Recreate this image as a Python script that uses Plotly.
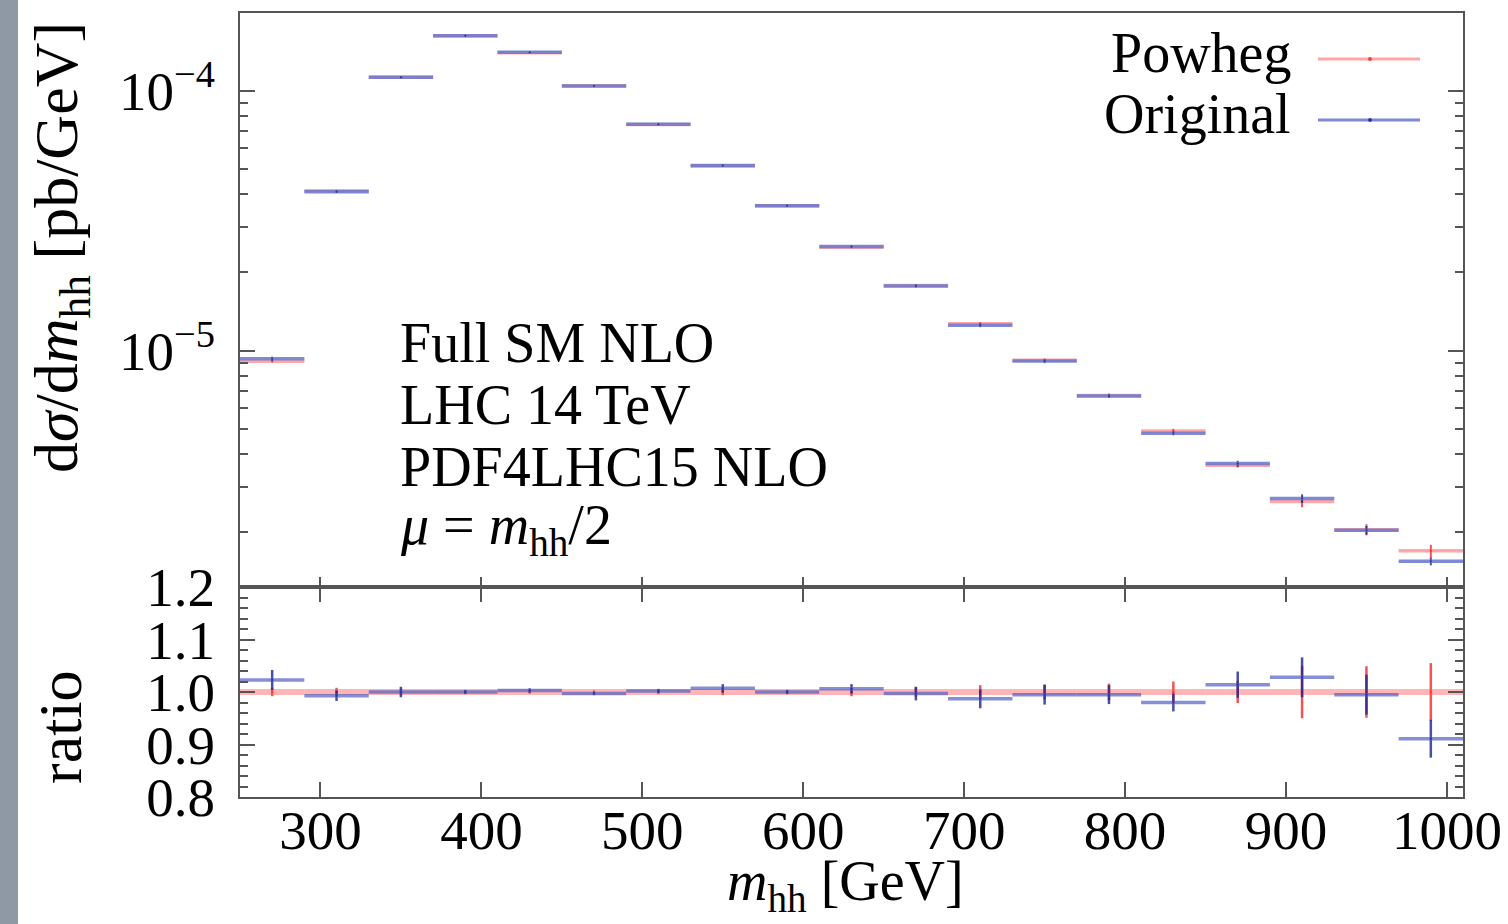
import plotly.graph_objects as go

# ---------------- data ----------------
bin_lo = [250, 290, 330, 370, 410, 450, 490, 530, 570, 610,
          650, 690, 730, 770, 810, 850, 890, 930, 970]
bin_hi = [290, 330, 370, 410, 450, 490, 530, 570, 610, 650,
          690, 730, 770, 810, 850, 890, 930, 970, 1010]

powheg = [9.10e-6, 4.12e-5, 1.126e-4, 1.627e-4, 1.40e-4, 1.045e-4, 7.42e-5,
          5.13e-5, 3.61e-5, 2.50e-5, 1.78e-5, 1.27e-5, 9.18e-6, 6.73e-6,
          4.91e-6, 3.63e-6, 2.63e-6, 2.05e-6, 1.70e-6]
original = [9.31e-6, 4.09e-5, 1.126e-4, 1.627e-4, 1.404e-4, 1.042e-4, 7.43e-5,
            5.16e-5, 3.61e-5, 2.515e-5, 1.775e-5, 1.254e-5, 9.13e-6, 6.70e-6,
            4.81e-6, 3.68e-6, 2.70e-6, 2.04e-6, 1.55e-6]

ratio_powheg = [1.0] * 19
ratio_powheg_err = [0.008, 0.008, 0.006, 0.003, 0.003, 0.003, 0.004, 0.006, 0.004, 0.008,
                    0.009, 0.013, 0.014, 0.016, 0.020, 0.021, 0.050, 0.049, 0.055]
ratio_original = [1.023, 0.993, 1.000, 1.000, 1.003, 0.997, 1.002, 1.007, 1.000, 1.006,
                  0.997, 0.987, 0.995, 0.995, 0.980, 1.014, 1.028, 0.995, 0.911]
ratio_original_err = [0.019, 0.010, 0.010, 0.004, 0.004, 0.003, 0.004, 0.008, 0.004, 0.009,
                      0.013, 0.018, 0.019, 0.018, 0.017, 0.025, 0.038, 0.038, 0.036]

x_ticks = [300, 400, 500, 600, 700, 800, 900, 1000]
ratio_ticks = [0.8, 0.9, 1.0, 1.1, 1.2]
ratio_ticktext = ["0.8", "0.9", "1.0", "1.1", "1.2"]
main_ticks = [1e-5, 1e-4]
main_ticktext = ["10<sup>\u22125</sup>", "10<sup>\u22124</sup>"]

info_lines = ["Full SM NLO", "LHC 14 TeV", "PDF4LHC15 NLO",
              "<i>\u03bc</i> = <i>m</i><sub>hh</sub>/2"]

# ---------------- styling ----------------
RED = "rgba(255,80,80,0.5)"
RED_BAR = "rgba(240,40,40,0.8)"
BLUE = "rgba(105,118,205,0.85)"
BLUE_BAR = "rgba(25,35,145,0.8)"
FONT = "Liberation Serif, Times New Roman, serif"
FS_TICK = 55
FS = 56
AX = "#555555"

W, H = 1508, 924
L, R, T, B = 240, 45, 13, 127
PW, PH = W - L - R, H - T - B
split = (797 - 587) / PH


def px_x(p):
    return (p - L) / PW


def px_y(p):
    return (H - B - p) / PH


centers = [(a + b) / 2 for a, b in zip(bin_lo, bin_hi)]
halfw = [(b - a) / 2 for a, b in zip(bin_lo, bin_hi)]

fig = go.Figure()


def add_hist(y, err, xa, ya, col, barcol, lw, ew):
    fig.add_trace(go.Scatter(
        x=centers, y=y, mode="markers", xaxis=xa, yaxis=ya,
        marker=dict(size=2, color=barcol),
        error_x=dict(type="data", array=halfw, width=0, thickness=lw, color=col),
        error_y=dict(type="data", array=err, width=0, thickness=ew, color=barcol),
        showlegend=False, hoverinfo="skip"))


# main panel: small stat errors
powheg_err = [v * e for v, e in zip(powheg, ratio_powheg_err)]
original_err = [v * e for v, e in zip(original, ratio_original_err)]
add_hist(powheg, powheg_err, "x", "y", RED, RED_BAR, 3.5, 2)
add_hist(original, original_err, "x", "y", BLUE, BLUE_BAR, 3.5, 2)

# ratio panel
add_hist(ratio_powheg, ratio_powheg_err, "x2", "y2", "rgba(255,90,90,0.45)", RED_BAR, 6, 2.5)
add_hist(ratio_original, ratio_original_err, "x2", "y2", "rgba(80,95,195,0.7)", BLUE_BAR, 3.5, 2.5)

minor_log = [k * 10 ** n for n in (-6, -5, -4) for k in range(2, 10)]

axis_common = dict(showline=True, linecolor=AX, linewidth=2, ticks="inside",
                   tickcolor=AX, tickwidth=2, showgrid=False, zeroline=False,
                   automargin=False,
                   tickfont=dict(family=FONT, size=FS_TICK, color="black"))

fig.update_layout(
    width=W, height=H,
    margin=dict(l=L, r=R, t=T, b=B, autoexpand=False),
    paper_bgcolor="white", plot_bgcolor="white",
    showlegend=False,
    xaxis=dict(domain=[0, 1], range=[250, 1010], anchor="y",
               tickvals=x_ticks, showticklabels=False, ticklen=10,
               mirror=True, **axis_common),
    yaxis=dict(domain=[split, 1], type="log",
               range=[-5.9088, -3.7012], anchor="x",
               tickvals=main_ticks, ticktext=main_ticktext, ticklen=15,
               mirror="ticks", ticklabelstandoff=12,
               minor=dict(tickvals=minor_log, ticks="inside", ticklen=8,
                          tickcolor=AX, tickwidth=2),
               **axis_common),
    xaxis2=dict(domain=[0, 1], range=[250, 1010], anchor="y2",
                tickvals=x_ticks, ticklen=15, mirror="ticks",
                ticklabelstandoff=-16,
                **axis_common),
    yaxis2=dict(domain=[0, split], range=[0.8, 1.2], anchor="x2",
                tickvals=ratio_ticks, ticktext=ratio_ticktext, ticklen=15,
                mirror="ticks", ticklabelstandoff=12,
                minor=dict(dtick=0.02, tick0=0.8, ticks="inside", ticklen=8,
                           tickcolor=AX, tickwidth=2),
                **axis_common),
)

shapes = []
# grey strip on the far left (slide background)
shapes.append(dict(type="rect", xref="paper", yref="paper",
                   x0=px_x(0), x1=px_x(18), y0=px_y(H), y1=px_y(0),
                   fillcolor="#8e99a5", line=dict(width=0), layer="below"))
# legend samples
for yy, col, bar in [(59, RED, RED_BAR), (120, BLUE, BLUE_BAR)]:
    shapes.append(dict(type="line", xref="paper", yref="paper",
                       x0=px_x(1318), x1=px_x(1420), y0=px_y(yy), y1=px_y(yy),
                       line=dict(color=col, width=3)))
    shapes.append(dict(type="circle", xref="paper", yref="paper",
                       x0=px_x(1368), x1=px_x(1372), y0=px_y(yy + 2), y1=px_y(yy - 2),
                       fillcolor=bar, line=dict(width=0)))
fig.update_layout(shapes=shapes)

ann = []
tf = dict(family=FONT, size=FS, color="black")
ann.append(dict(text="Powheg", x=px_x(1293), y=px_y(53), xref="paper", yref="paper",
                xanchor="right", yanchor="middle", showarrow=False, font=tf))
ann.append(dict(text="Original", x=px_x(1293), y=px_y(114), xref="paper", yref="paper",
                xanchor="right", yanchor="middle", showarrow=False, font=tf))
for i, line in enumerate(info_lines):
    ann.append(dict(text=line, x=px_x(398), y=px_y(343 + 62 * i), xref="paper", yref="paper",
                    xanchor="left", yanchor="middle", showarrow=False, font=tf))
ann.append(dict(text="d<i>\u03c3</i>/d<i>m</i><sub>hh</sub> [pb/GeV]",
                x=px_x(60), y=px_y(248), xref="paper", yref="paper",
                xanchor="center", yanchor="middle", textangle=-90,
                showarrow=False, font=dict(family=FONT, size=62, color="black")))
ann.append(dict(text="ratio", x=px_x(60), y=px_y(727), xref="paper", yref="paper",
                xanchor="center", yanchor="middle", textangle=-90,
                showarrow=False, font=dict(family=FONT, size=62, color="black")))
ann.append(dict(text="<i>m</i><sub>hh</sub> [GeV]", x=px_x(845), y=px_y(885),
                xref="paper", yref="paper", xanchor="center", yanchor="middle",
                showarrow=False, font=tf))
fig.update_layout(annotations=ann)

fig.write_html("out.html",
               config={"displayModeBar": False},
               post_script="document.body.style.margin='0';document.body.style.overflow='hidden';")
